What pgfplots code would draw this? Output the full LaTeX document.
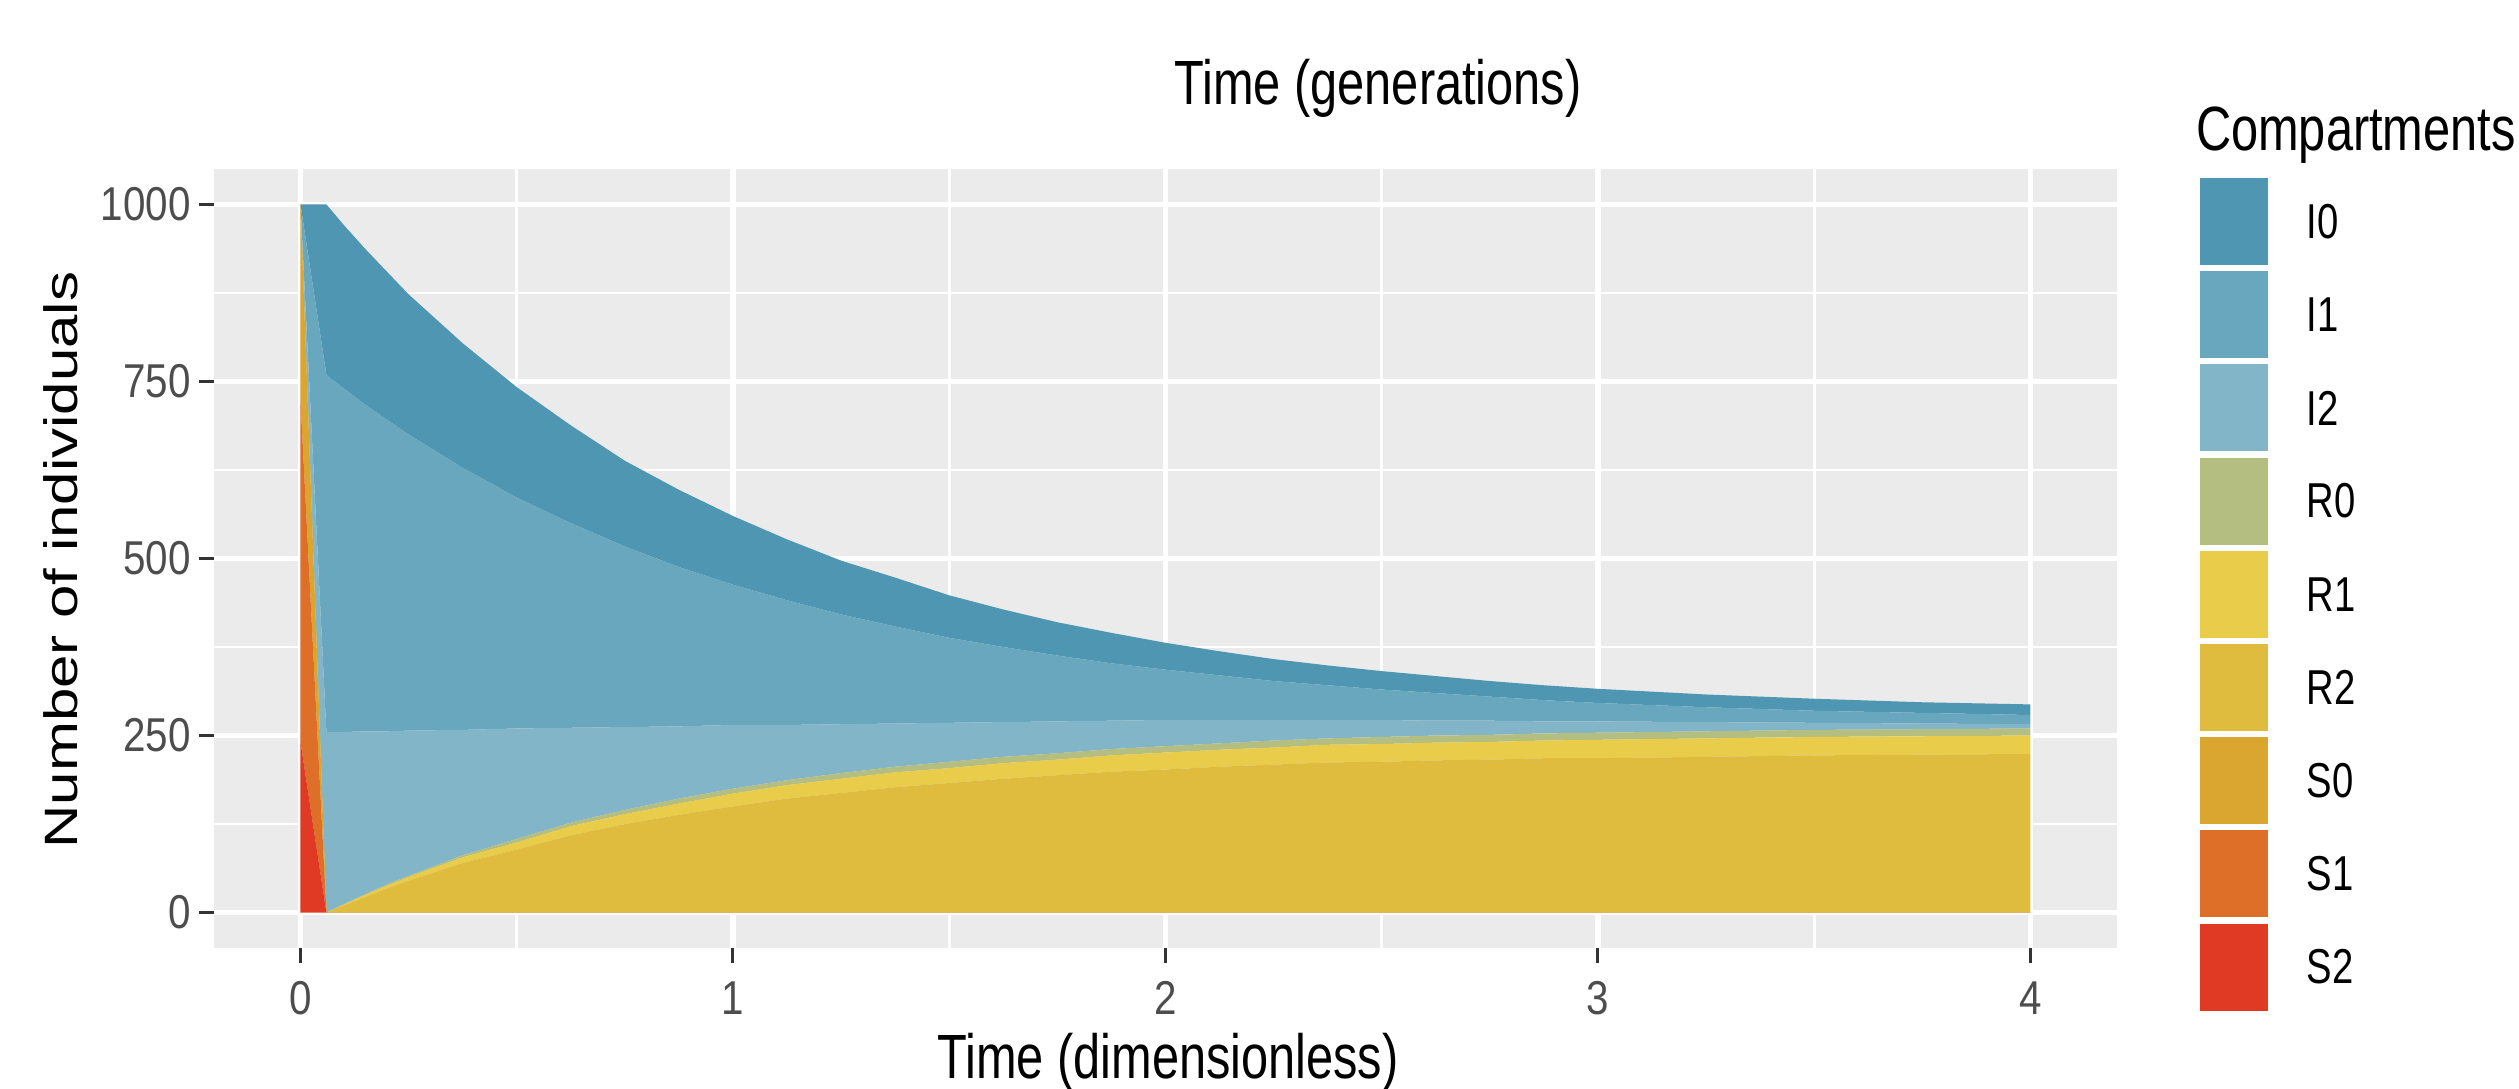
\documentclass[border=0pt]{standalone}
\usepackage{pgfplots}
\pgfplotsset{compat=1.18}
\usepackage{pgfplotstable}
\usepackage{graphicx}
\usepackage{fontspec}
\setmainfont{Liberation Sans}
\newfontfamily\condfont{Liberation Sans}[FakeStretch=0.78]
\newfontfamily\tickfont{Liberation Sans}[FakeStretch=0.85]

\definecolor{panelbg}{HTML}{EBEBEB}
\definecolor{tickgrey}{HTML}{333333}
\definecolor{labgrey}{HTML}{4D4D4D}
\definecolor{cI0}{HTML}{4E96B2}
\definecolor{cI1}{HTML}{68A7BD}
\definecolor{cI2}{HTML}{82B5C7}
\definecolor{cR0}{HTML}{B3BE80}
\definecolor{cR1}{HTML}{E8CC4A}
\definecolor{cR2}{HTML}{DFBC3E}
\definecolor{cS0}{HTML}{DBA630}
\definecolor{cS1}{HTML}{DE6F28}
\definecolor{cS2}{HTML}{E03A24}

\pgfplotstableread{
t     S2  S1  S0  R2  R1 R0  I2  I1  I0
0     241 483 276 0   0  0   0   0   0
0.06  0   0   0   0   0  0   255 504 241
0.1   0   0   0   10  1  1   243 485 231
0.15  0   0   0   22  3  1   230 461 220
0.2   0   0   0   34  4  2   216 440 209
0.25  0   0   0   45  5  2   205 418 198
0.375 0   0   0   70  8  3   177 370 176
0.5   0   0   0   89  10 5   156 326 156
0.625 0   0   0   109 13 5   134 289 138
0.75  0   0   0   125 14 6   117 255 121
0.875 0   0   0   138 16 7   102 225 109
1.0   0   0   0   150 18 7   90  198 97
1.125 0   0   0   161 19 7   78  176 86
1.25  0   0   0   169 20 8   69  155 76
1.375 0   0   0   177 21 8   61  137 69
1.5   0   0   0   183 21 9   55  120 60
1.625 0   0   0   189 22 9   49  106 53
1.75  0   0   0   194 22 9   45  93  47
1.875 0   0   0   199 23 9   40  81  43
2.0   0   0   0   202 24 9   37  71  38
2.125 0   0   0   206 24 9   33  63  34
2.25  0   0   0   209 24 10  29  55  31
2.375 0   0   0   212 25 9   26  49  28
2.5   0   0   0   213 25 10  24  43  26
2.625 0   0   0   215 25 10  21  39  24
2.75  0   0   0   216 25 10  20  34  22
2.875 0   0   0   218 25 10  17  30  21
3.0   0   0   0   218 26 10  16  26  20
3.25  0   0   0   220 26 10  13  21  18
3.5   0   0   0   222 26 10  10  17  17
3.75  0   0   0   223 26 10  8   15  15
4.0   0   0   0   224 26 10  6   13  15
}\datatable

\begin{document}
\begin{tikzpicture}
\path[use as bounding box] (-42.8pt,-28pt) rectangle (461pt,189.6pt);
\begin{axis}[
  at={(0pt,0pt)}, anchor=south west,
  scale only axis, width=380.6pt, height=155.8pt,
  xmin=-0.2, xmax=4.2, ymin=-50, ymax=1050,
  axis background/.style={fill=panelbg},
  axis line style={draw=none},
  tick align=outside, tick pos=left,
  major tick length=3pt, minor tick length=0pt,
  tick style={color=tickgrey, line width=0.6pt},
  xtick={0,1,2,3,4}, xticklabels={0,1,2,3,4},
  minor xtick={0.5,1.5,2.5,3.5},
  ytick={0,250,500,750,1000}, yticklabels={0,250,500,750,1000},
  minor ytick={125,375,625,875},
  grid=both,
  major grid style={white, line width=1.1pt},
  minor grid style={white, line width=0.55pt},
  /pgf/number format/assume math mode=true,
  ticklabel style={font=\tickfont\fontsize{9.5}{11}\selectfont, text=labgrey},
  yticklabel style={inner sep=1.5pt},
  xticklabel style={inner sep=1.5pt, yshift=-2pt},
  stack plots=y,
  clip=false,
]
\addplot[fill=cS2, draw=none] table[x=t, y=S2] {\datatable} \closedcycle;
\addplot[fill=cS1, draw=none] table[x=t, y=S1] {\datatable} \closedcycle;
\addplot[fill=cS0, draw=none] table[x=t, y=S0] {\datatable} \closedcycle;
\addplot[fill=cR2, draw=none] table[x=t, y=R2] {\datatable} \closedcycle;
\addplot[fill=cR1, draw=none] table[x=t, y=R1] {\datatable} \closedcycle;
\addplot[fill=cR0, draw=none] table[x=t, y=R0] {\datatable} \closedcycle;
\addplot[fill=cI2, draw=none] table[x=t, y=I2] {\datatable} \closedcycle;
\addplot[fill=cI1, draw=none] table[x=t, y=I1] {\datatable} \closedcycle;
\addplot[fill=cI0, draw=none] table[x=t, y=I0] {\datatable} \closedcycle;
\end{axis}

% axis titles
\node[anchor=base, inner sep=0pt, font=\condfont\fontsize{12.5}{15}\selectfont] at (190.8pt,-26pt) {Time (dimensionless)};
\node[anchor=base, inner sep=0pt, font=\condfont\fontsize{12.5}{15}\selectfont] at (232.8pt,168.7pt) {Time (generations)};
\node[anchor=center, inner sep=0pt] at (-30.6pt,77.6pt) {\scalebox{0.78}[1]{\rotatebox{90}{\fontsize{12}{14}\selectfont Number of individuals}}};

% legend
\node[anchor=base west, inner sep=0pt, font=\condfont\fontsize{12.5}{15}\selectfont] at (396.2pt,159.5pt) {Compartments};
\foreach \i/\c/\l in {0/cI0/I0, 1/cI1/I1, 2/cI2/I2, 3/cR0/R0, 4/cR1/R1, 5/cR2/R2, 6/cS0/S0, 7/cS1/S1, 8/cS2/S2} {
  \fill[\c] (397.2pt,{154pt-18.64pt*\i}) rectangle (410.8pt,{154pt-18.64pt*\i-17.4pt});
  \node[anchor=west, inner sep=0pt, font=\condfont\fontsize{9.8}{12}\selectfont] at (418.3pt,{154pt-18.64pt*\i-8.7pt}) {\l};
}
\end{tikzpicture}
\end{document}
